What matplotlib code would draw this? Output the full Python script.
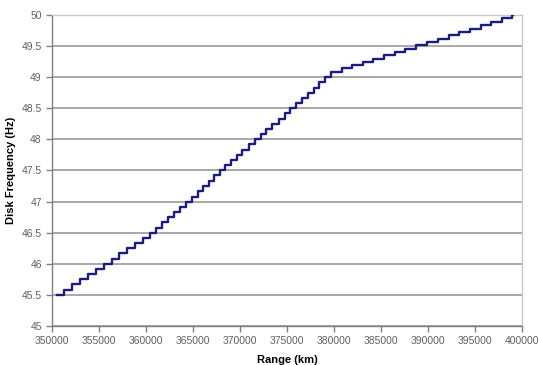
import matplotlib.pyplot as plt
from matplotlib.ticker import MultipleLocator, FuncFormatter

# riser positions (km) and frequency levels (Hz)
range_km = [350500, 351300, 352150, 353000, 353850, 354650, 355500, 356350, 357150, 358000,
            358850, 359650, 360400, 361050, 361650, 362300, 362950, 363600, 364250, 364850,
            365500, 366050, 366650, 367250, 367850, 368450, 369050, 369650, 370250, 370900,
            371550, 372200, 372800, 373450, 374100, 374750, 375350, 376000, 376600, 377200,
            377850, 378450, 379050, 379700,
            380800, 381950, 383100, 384200, 385350, 386500, 387600, 388750, 389900, 391050,
            392200, 393300, 394450, 395600, 396750, 397900, 399000, 399100]
freq_hz = [45.5, 45.58, 45.67, 45.75, 45.83, 45.92, 46.0, 46.08, 46.17, 46.25,
           46.33, 46.42, 46.5, 46.58, 46.67, 46.75, 46.83, 46.92, 47.0, 47.08,
           47.17, 47.25, 47.33, 47.42, 47.5, 47.58, 47.67, 47.75, 47.83, 47.92,
           48.0, 48.08, 48.17, 48.25, 48.33, 48.42, 48.5, 48.58, 48.67, 48.75,
           48.83, 48.92, 49.0, 49.08,
           49.14, 49.19, 49.24, 49.3, 49.35, 49.41, 49.46, 49.52, 49.57, 49.62,
           49.68, 49.73, 49.78, 49.84, 49.89, 49.95, 50.0, 50.0]

plt.rcParams['font.family'] = ['Liberation Sans', 'DejaVu Sans']

fig = plt.figure(figsize=(5.38, 3.65), dpi=100)
ax = fig.add_axes([0.097, 0.107, 0.873, 0.852])

ax.step(range_km, freq_hz, where='post', color='#1c1c80', linewidth=1.7, zorder=3)

ax.set_xlim(350000, 400000)
ax.set_ylim(45, 50)
ax.xaxis.set_major_locator(MultipleLocator(5000))
ax.yaxis.set_major_locator(MultipleLocator(0.5))
ax.xaxis.set_major_formatter(FuncFormatter(lambda v, p: '%d' % v))
ax.yaxis.set_major_formatter(FuncFormatter(lambda v, p: '%g' % v))

ax.grid(axis='y', color='#a8a8a8', linewidth=1.4)
ax.set_axisbelow(True)

for s in ['top', 'right']:
    ax.spines[s].set_color('#c8c8c8')
    ax.spines[s].set_linewidth(1.0)
for s in ['left', 'bottom']:
    ax.spines[s].set_color('#808080')
    ax.spines[s].set_linewidth(1.0)

ax.tick_params(direction='out', length=4, width=1, color='#808080',
               labelsize=7.5, labelcolor='#606060')

ax.set_xlabel('Range (km)', fontsize=8, fontweight='bold', labelpad=6)
ax.set_ylabel('Disk Frequency (Hz)', fontsize=8, fontweight='bold', labelpad=4)

fig.savefig('out.png', dpi=100)
